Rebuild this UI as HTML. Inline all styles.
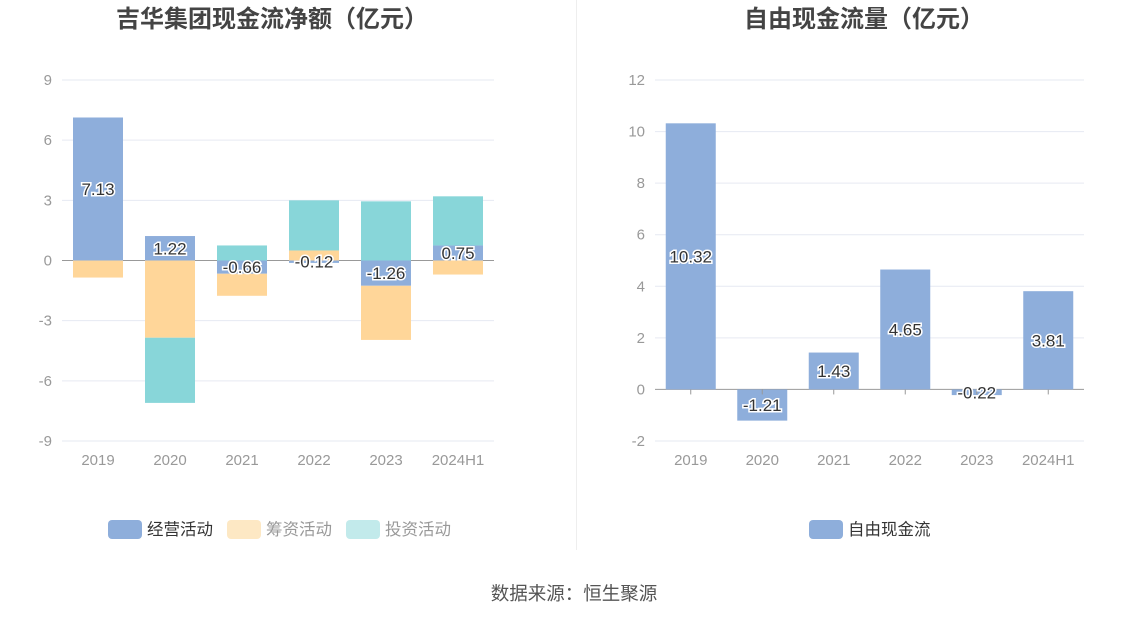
<!DOCTYPE html>
<html><head><meta charset="utf-8"><style>
html,body{margin:0;padding:0;background:#fff;}
body{width:1147px;height:619px;overflow:hidden;font-family:"Liberation Sans","Noto Sans CJK SC",sans-serif;}
</style></head><body>
<svg id="svg" width="1147" height="619" xmlns="http://www.w3.org/2000/svg" font-family="Liberation Sans, Noto Sans CJK SC, sans-serif">
<line x1="576.5" y1="0" x2="576.5" y2="550" stroke="#eeeeee"/>
<text x="272" y="27" text-anchor="middle" font-size="24" font-weight="bold" fill="#444">吉华集团现金流净额（亿元）</text>
<text x="864" y="27" text-anchor="middle" font-size="24" font-weight="bold" fill="#444">自由现金流量（亿元）</text>
<g id="left"></g>
<g id="right"></g>
<g>
<rect x="108" y="520" width="34" height="19" rx="4" fill="#8eaedb"/>
<text x="147" y="535" font-size="16.5" fill="#333">经营活动</text>
<rect x="227" y="520" width="34" height="19" rx="4" fill="#fde8c4"/>
<text x="266" y="535" font-size="16.5" fill="#999">筹资活动</text>
<rect x="346" y="520" width="34" height="19" rx="4" fill="#c2eaeb"/>
<text x="385" y="535" font-size="16.5" fill="#999">投资活动</text>
</g>
<g>
<rect x="809" y="520" width="34" height="19" rx="4" fill="#8eaedb"/>
<text x="848" y="535" font-size="16.5" fill="#333">自由现金流</text>
</g>
<text x="574" y="600" text-anchor="middle" font-size="18.5" fill="#555">数据来源：恒生聚源</text>
</svg>
<script>
const categories = ["2019","2020","2021","2022","2023","2024H1"];
const operating = [7.13, 1.22, -0.66, -0.12, -1.26, 0.75];
const financing = [-0.85, -3.85, -1.1, 0.5, -2.7, -0.7];
const investing = [0, -3.25, 0.75, 2.5, 2.95, 2.45];
const leftTicks = [-9,-6,-3,0,3,6,9];
const fcf = [10.32, -1.21, 1.43, 4.65, -0.22, 3.81];
const rightTicks = [-2,0,2,4,6,8,10,12];

const NS = "http://www.w3.org/2000/svg";
function mk(parent, tag, attrs, text) {
  const e = document.createElementNS(NS, tag);
  for (const k in attrs) e.setAttribute(k, attrs[k]);
  if (text !== undefined) e.textContent = text;
  parent.appendChild(e);
  return e;
}
function label(g, x, y, t) {
  const el = mk(g, 'text', {x:x, y:y+6, 'text-anchor':'middle', 'font-size':17, fill:'#333', stroke:'#fff', 'stroke-width':3, 'paint-order':'stroke'}, t);
  
  
}
function axes(g, x0, x1, yTop, yBot, min, max, ticks) {
  const ys = v => yBot - (v - min) / (max - min) * (yBot - yTop);
  ticks.forEach(t => {
    const l = mk(g, 'line', {x1:x0, x2:x1, y1:ys(t), y2:ys(t), stroke: t===0?'#999':'#e6e9f2', 'stroke-width':1});
    
    
    const tx = mk(g, 'text', {x:x0-10, y:ys(t)+5, 'text-anchor':'end', 'font-size':15, fill:'#999'}, String(t));
    
    
  });
  return ys;
}
(function(){
  const g = document.getElementById('left');
  const x0 = 62, x1 = 494;
  const ys = axes(g, x0, x1, 80, 441, -9, 9, leftTicks);
  const bw = (x1 - x0) / categories.length;
  const series = [[operating,'#8eaedb','operating'],[financing,'#ffd699','financing'],[investing,'#88d6d9','investing']];
  categories.forEach((c, i) => {
    const cx = x0 + bw * (i + 0.5);
    let pos = 0, neg = 0;
    series.forEach(([arr, col, nm]) => {
      const v = arr[i];
      let a, b;
      if (v >= 0) { a = pos; b = pos + v; pos = b; } else { a = neg; b = neg + v; neg = b; }
      const y1 = Math.min(ys(a), ys(b)), h = Math.abs(ys(a) - ys(b));
      const r = mk(g, 'rect', {x:cx-25, y:y1, width:50, height:h, fill:col});
      
      
    });
    const t = mk(g, 'text', {x:cx, y:465, 'text-anchor':'middle', 'font-size':15, fill:'#999'}, c);
    
    
  });
  categories.forEach((c, i) => {
    const cx = x0 + bw * (i + 0.5);
    label(g, cx, ys(operating[i] / 2), operating[i].toFixed(2));
  });
})();
(function(){
  const g = document.getElementById('right');
  const x0 = 655, x1 = 1084;
  const ys = axes(g, x0, x1, 80, 441, -2, 12, rightTicks);
  const bw = (x1 - x0) / categories.length;
  categories.forEach((c, i) => {
    const cx = x0 + bw * (i + 0.5);
    const v = fcf[i];
    const y1 = Math.min(ys(0), ys(v)), h = Math.abs(ys(0) - ys(v));
    const r = mk(g, 'rect', {x:cx-25, y:y1, width:50, height:h, fill:'#8eaedb'});
    
    
    const tk = mk(g, 'line', {x1:cx, x2:cx, y1:ys(0), y2:ys(0)+5, stroke:'#999'});
    
    
    const t = mk(g, 'text', {x:cx, y:465, 'text-anchor':'middle', 'font-size':15, fill:'#999'}, c);
    
    
  });
  categories.forEach((c, i) => {
    const cx = x0 + bw * (i + 0.5);
    label(g, cx, ys(fcf[i] / 2), fcf[i].toFixed(2));
  });
})();
</script>
</body></html>
